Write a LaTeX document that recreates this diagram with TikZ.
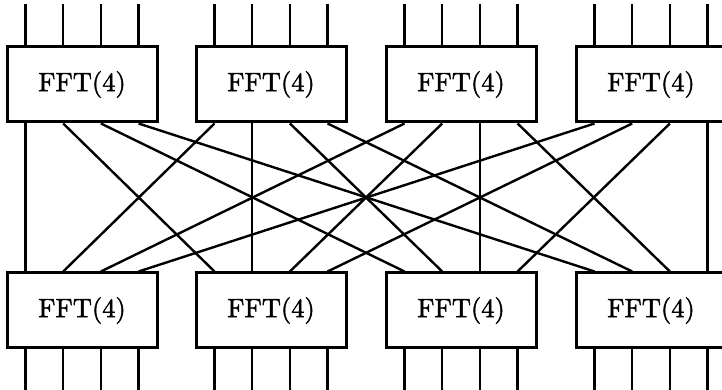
\documentclass[tikz,border=0pt]{standalone}
\usepackage{fontspec}
\usetikzlibrary{calc}
% a slightly heavier roman for the block labels
\newfontfamily\fftfont{lmroman10-regular.otf}[RawFeature={embolden=1.6}]
\begin{document}
\begin{tikzpicture}[x=1pt,y=1pt,
  fftbox/.style={draw, line width=3pt, minimum width=150pt, minimum height=75pt,
    inner sep=0pt, fill=white, font=\fftfont\fontsize{26.5}{30}\selectfont},
  wire/.style={line width=2.4pt}]
\useasboundingbox (0,0) rectangle (722,390);
% two rows of four 4-point FFT blocks
\foreach \i/\x in {1/82,2/271,3/461,4/651}{
  \node[fftbox] (t\i) at (\x,305.5) {FFT(4)};
  \node[fftbox] (b\i) at (\x,79.5) {FFT(4)};
}
% pin coordinates, offset from the block centre
\foreach \i in {1,...,4}{
  \foreach \k in {1,...,4}{
    \pgfmathsetmacro\dx{{-56.5,-18.8,18.9,56.6}[\k-1]}
    \coordinate (tin\i\k) at ($(t\i.north)+(\dx,0)$);
    \coordinate (tout\i\k) at ($(t\i.south)+(\dx,0)$);
    \coordinate (bin\i\k) at ($(b\i.north)+(\dx,0)$);
    \coordinate (bout\i\k) at ($(b\i.south)+(\dx,0)$);
    \coordinate (tend\i\k) at ($(tin\i\k)+(0,41)$);
    \coordinate (bend\i\k) at ($(bout\i\k)+(0,-44)$);
  }
}
% input and output pins
\foreach \i in {1,...,4}{
  \foreach \k in {1,...,4}{
    \draw[wire] (tend\i\k) -- (tin\i\k);
    \draw[wire] (bout\i\k) -- (bend\i\k);
  }
}
% transposing interconnect: output k of upper block i feeds input i of lower block k
\foreach \i in {1,...,4}{
  \foreach \k in {1,...,4}{
    \draw[wire] (tout\i\k) -- (bin\k\i);
  }
}
\end{tikzpicture}
\end{document}
